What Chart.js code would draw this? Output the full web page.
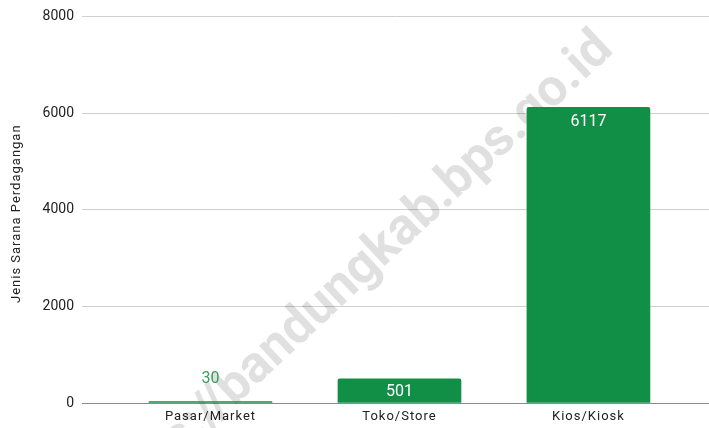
<!DOCTYPE html>
<html>
<head>
<meta charset="utf-8">
<script src="https://cdn.jsdelivr.net/npm/chart.js@4"></script>
<style>
  html, body { margin: 0; padding: 0; background: #fff; }
  #wrap { width: 709px; height: 428px; }
</style>
</head>
<body>
<div id="wrap"><canvas id="grafik"></canvas></div>
<script>
// Data sarana perdagangan
const kategori = ['Pasar/Market', 'Toko/Store', 'Kios/Kiosk'];
const jumlah = [30, 501, 6117];
const tickY = [0, 2000, 4000, 6000, 8000];

const hijau = '#118f46';
const fontUtama = 'Roboto, "Open Sans", sans-serif';

// label angka di atas / di dalam batang
const labelBatang = {
  id: 'labelBatang',
  afterDatasetsDraw(chart) {
    const ctx = chart.ctx;
    const meta = chart.getDatasetMeta(0);
    ctx.save();
    ctx.font = '16px ' + fontUtama;
    ctx.textAlign = 'center';
    ctx.textBaseline = 'middle';
    meta.data.forEach((bar, i) => {
      const tinggi = bar.base - bar.y;
      if (tinggi > 15) {
        ctx.fillStyle = '#ffffff';
        ctx.fillText(String(jumlah[i]), bar.x, bar.y + Math.min(15, tinggi / 2 + 1));
      } else {
        ctx.fillStyle = '#3a9d5d';
        ctx.fillText(String(jumlah[i]), bar.x, bar.y - 23);
      }
    });
    ctx.restore();
  }
};

// watermark diagonal
const watermark = {
  id: 'watermark',
  beforeDatasetsDraw(chart) {
    const ctx = chart.ctx;
    ctx.save();
    ctx.font = 'bold 52px ' + fontUtama;
    ctx.fillStyle = 'rgba(0,0,0,0.12)';
    ctx.textAlign = 'right';
    ctx.textBaseline = 'middle';
    ctx.translate(606, 42);
    ctx.rotate(-43 * Math.PI / 180);
    ctx.fillText('https://bandungkab.bps.go.id', 0, 0);
    ctx.restore();
  }
};

// jarak huruf untuk label sumbu
const jarakHuruf = {
  id: 'jarakHuruf',
  afterUpdate(chart) {
    const sx = chart.scales.x;
    if (!sx._spasi) {
      const asli = sx.drawLabels.bind(sx);
      sx.drawLabels = function (area) {
        chart.ctx.save();
        chart.ctx.letterSpacing = '1px';
        asli(area);
        chart.ctx.restore();
      };
      sx._spasi = true;
    }
    const sy = chart.scales.y;
    if (!sy._spasi) {
      const asliJudul = sy.drawTitle.bind(sy);
      sy.drawTitle = function (area) {
        chart.ctx.save();
        chart.ctx.letterSpacing = '1px';
        chart.ctx.translate(2, 4);
        asliJudul(area);
        chart.ctx.restore();
      };
      sy._spasi = true;
    }
  }
};

const ctx = document.getElementById('grafik').getContext('2d');
new Chart(ctx, {
  type: 'bar',
  data: {
    datasets: [{
      data: jumlah.map((v, i) => ({ x: i, y: v })),
      backgroundColor: hijau,
      borderRadius: 2,
      borderSkipped: 'start',
      barThickness: 123
    }]
  },
  options: {
    responsive: true,
    maintainAspectRatio: false,
    animation: false,
    layout: { padding: { top: 13, left: 3, right: 0, bottom: 0 } },
    plugins: {
      legend: { display: false },
      tooltip: { enabled: false }
    },
    scales: {
      x: {
        type: 'linear',
        offset: false,
        min: -0.68,
        max: 2.638,
        afterBuildTicks: (s) => { s.ticks = kategori.map((_, i) => ({ value: i })); },
        afterFit: (s) => { s.height = 25; },
        grid: { display: false, drawTicks: false, offset: false },
        border: { display: true, color: '#8c8c8c', width: 1 },
        ticks: {
          padding: 6,
          color: '#222',
          font: { size: 13, family: fontUtama },
          maxRotation: 0,
          autoSkip: false,
          callback: (v) => kategori[v]
        }
      },
      y: {
        min: 0,
        max: 8000,
        afterBuildTicks: (s) => { s.ticks = tickY.map(v => ({ value: v })); },
        afterFit: (s) => { s.width = 79; },
        grid: { color: '#cfcfcf', drawTicks: false },
        border: { display: false },
        ticks: {
          padding: 8,
          color: '#222',
          font: { size: 14, family: fontUtama },
          callback: (v) => String(v)
        },
        title: {
          display: true,
          text: 'Jenis Sarana Perdagangan',
          color: '#222',
          font: { size: 13, family: fontUtama },
          padding: { top: 4, bottom: 4 }
        }
      }
    }
  },
  plugins: [watermark, labelBatang, jarakHuruf]
});
</script>
</body>
</html>
